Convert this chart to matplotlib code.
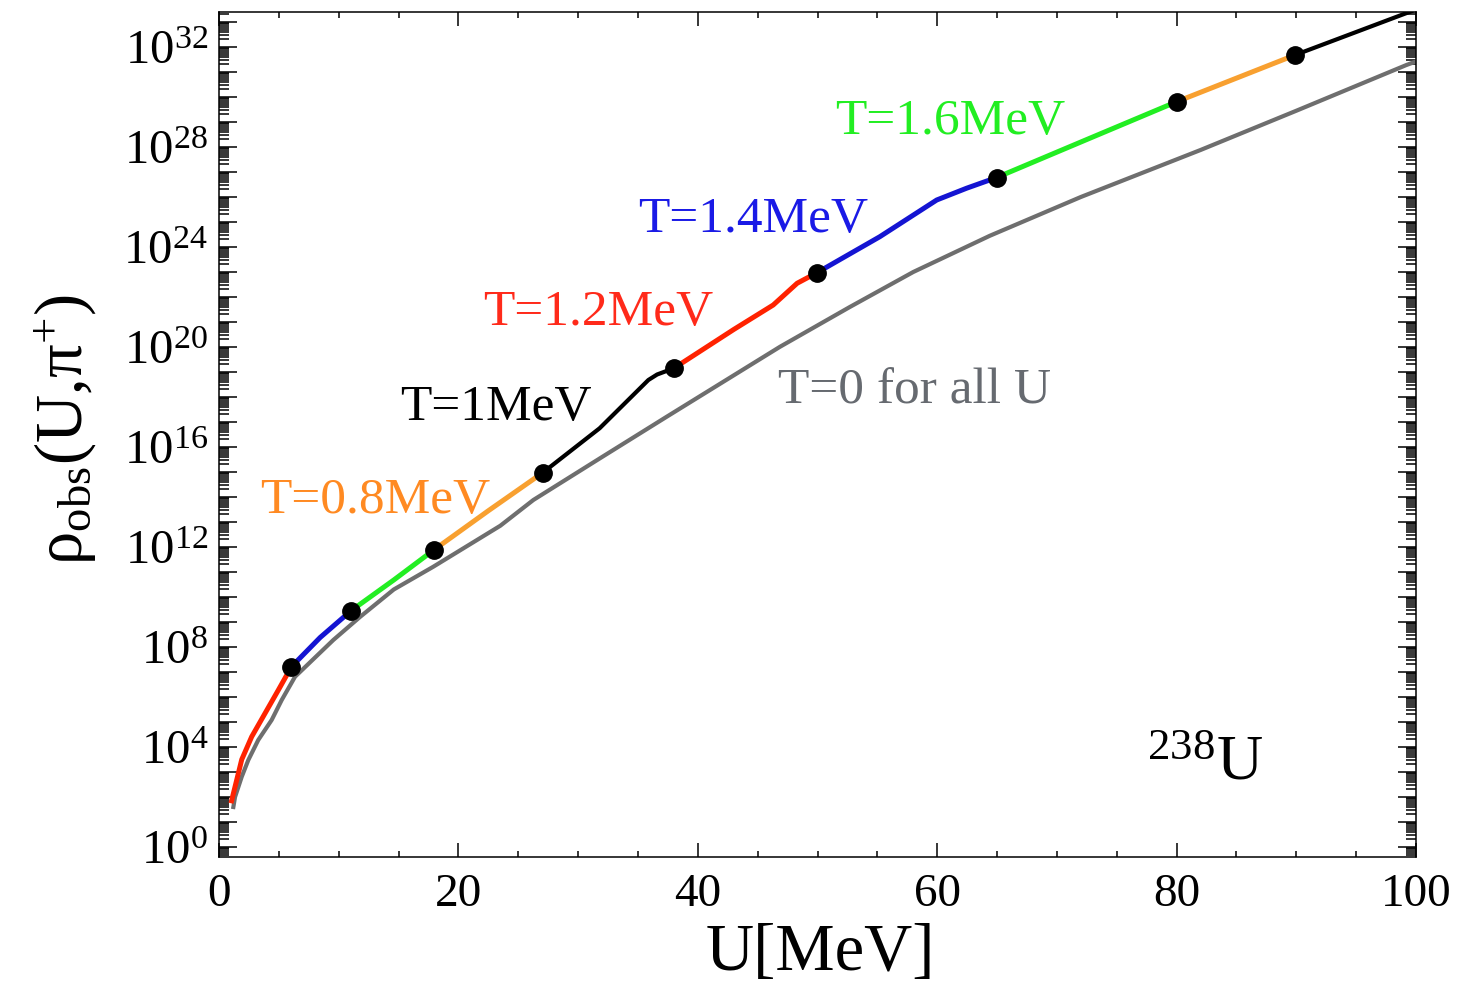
import numpy as np
import matplotlib
matplotlib.use("Agg")
import matplotlib.pyplot as plt
from matplotlib.ticker import FixedLocator, FuncFormatter, NullFormatter

plt.rcParams['font.family'] = ['Liberation Serif', 'DejaVu Serif']
plt.rcParams['mathtext.fontset'] = 'custom'
plt.rcParams['mathtext.rm'] = 'Liberation Serif'
plt.rcParams['mathtext.it'] = 'Liberation Serif:italic'
plt.rcParams['mathtext.bf'] = 'Liberation Serif:bold'

# ---- data (U in MeV, log10 of rho) ----
seg_colors = ['#ff2200', '#1414d2', '#22ee22', '#f8a030', '#000000',
              '#ff2200', '#1414d2', '#22ee22', '#f8a030', '#000000']
seg_U = [
    [1.0, 1.48, 1.9, 2.73, 3.85, 4.96, 6.05],
    [6.05, 8.45, 11.03],
    [11.03, 14.6, 18.0],
    [18.0, 22.5, 27.04],
    [27.04, 31.8, 35.87, 36.6, 38.0],
    [38.0, 43.0, 46.3, 48.3, 49.95],
    [49.95, 55.2, 59.96, 62.45, 64.97],
    [64.97, 72.5, 80.0],
    [80.0, 89.9],
    [89.9, 100.0],
]
seg_logrho = [
    [1.75, 2.68, 3.5, 4.41, 5.35, 6.28, 7.21],
    [7.21, 8.38, 9.45],
    [9.45, 10.68, 11.9],
    [11.9, 13.45, 14.97],
    [14.97, 16.75, 18.68, 18.9, 19.15],
    [19.15, 20.7, 21.68, 22.55, 22.97],
    [22.97, 24.41, 25.88, 26.35, 26.78],
    [26.78, 28.3, 29.81],
    [29.81, 31.68],
    [31.68, 33.5],
]
dot_U = [6.05, 11.03, 18.0, 27.04, 38.0, 49.95, 64.97, 80.0, 89.9]
dot_logrho = [7.21, 9.45, 11.9, 14.97, 19.15, 22.97, 26.78, 29.81, 31.68]

gray_U = [1.2, 1.34, 1.9, 2.45, 3.28, 4.4, 5.24, 6.35, 9.55, 11.8, 14.6,
          17.9, 23.5, 26.26, 32.0, 37.4, 46.87, 52.7, 58.0, 64.4, 72.0, 82.0, 90.0, 99.2, 100.0]
gray_logrho = [1.6, 2.0, 2.81, 3.48, 4.28, 5.08, 5.88, 6.81, 8.28, 9.21, 10.3,
               11.21, 12.85, 13.88, 15.6, 17.21, 20.01, 21.6, 23.0, 24.45, 26.0, 27.88, 29.45, 31.28, 31.42]

labels = ['T=0.8MeV', 'T=1MeV', 'T=1.2MeV', 'T=1.4MeV', 'T=1.6MeV', 'T=0 for all U']
label_colors = ['#ff8a22', '#000000', '#ff2a1a', '#1a1ae6', '#22ee22', '#666a70']
label_U = [3.43, 15.12, 22.05, 35.0, 51.5, 46.7]
label_logrho = [13.36, 17.08, 20.88, 24.6, 28.52, 17.76]

# ---- figure ----
W, H = 1458, 986
fig = plt.figure(figsize=(W / 100, H / 100), dpi=100)
L, R, T, B = 219, 1416, 12, 856.7
ax = fig.add_axes([L / W, 1 - B / H, (R - L) / W, (B - T) / H])

for U, lr, c in zip(seg_U, seg_logrho, seg_colors):
    lw = 3.0 if c == '#000000' else 3.6
    ax.plot(U, 10.0 ** np.array(lr), color=c, lw=lw, solid_capstyle='butt',
            solid_joinstyle='round', zorder=3)
ax.plot(gray_U, 10.0 ** np.array(gray_logrho), color='#6e6e6e', lw=3.0,
        solid_joinstyle='round', zorder=2)
ax.plot(dot_U, 10.0 ** np.array(dot_logrho), 'o', color='k', ms=12.5, zorder=5)

for t, c, u, lr in zip(labels, label_colors, label_U, label_logrho):
    ax.text(u, 10.0 ** lr, t, color=c, fontsize=37, ha='left', va='baseline')
ax.text(77.5, 10.0 ** 2.68, r'$^{238}$U', color='k', fontsize=46, ha='left', va='baseline')

ax.set_yscale('log')
ax.set_xlim(0, 100)
ax.set_ylim(10.0 ** ((847 - B) / 25), 10.0 ** ((847 - T) / 25))

ax.xaxis.set_major_locator(FixedLocator(np.arange(0, 101, 20)))
ax.xaxis.set_minor_locator(FixedLocator(np.arange(0, 101, 5)))
ax.yaxis.set_major_locator(FixedLocator(10.0 ** np.arange(0, 35)))
ax.yaxis.set_minor_locator(FixedLocator([k * 10.0 ** n for n in range(-1, 35) for k in range(2, 10)]))
ax.yaxis.set_major_formatter(FuncFormatter(
    lambda v, p: (r'$10^{%d}$' % round(np.log10(v))) if round(np.log10(v)) % 4 == 0 else ''))
ax.yaxis.set_minor_formatter(NullFormatter())

ax.tick_params(axis='both', which='both', direction='in', top=True, right=True,
               width=1.1, colors='k')
ax.tick_params(axis='x', which='major', length=10, labelsize=34, pad=12)
ax.tick_params(axis='x', which='minor', length=4.5)
ax.tick_params(axis='y', which='major', length=13, labelsize=35, pad=8)
ax.tick_params(axis='y', which='minor', length=7)
for s in ax.spines.values():
    s.set_linewidth(1.1)

fig.text(820 / W, 1 - 970 / H, 'U[MeV]', fontsize=48, ha='center', va='baseline')
fig.text(65 / W, 1 - 430 / H, r'ρ$_{\mathrm{obs}}$(U,π$^{+}$)', fontsize=48,
         rotation=90, ha='center', va='center')

fig.savefig('out.png', dpi=100)
